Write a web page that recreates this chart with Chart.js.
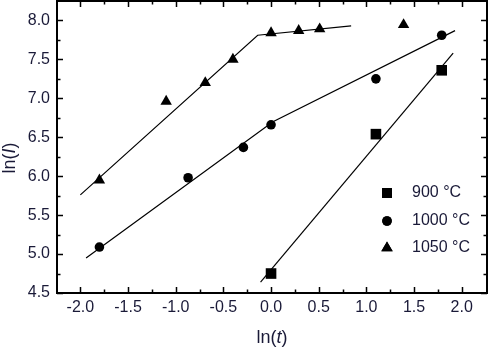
<!DOCTYPE html>
<html>
<head>
<meta charset="utf-8">
<script src="https://cdn.jsdelivr.net/npm/chart.js@4.4.0/dist/chart.umd.min.js"></script>
<style>
  html, body { margin: 0; padding: 0; background: #fff; }
  #wrap { width: 488px; height: 349px; }
</style>
</head>
<body>
<div id="wrap"><canvas id="lnChart" width="488" height="349"></canvas></div>
<script>
// data
const x900 = [0.0, 1.1, 1.79];
const y900 = [4.75, 6.54, 7.36];
const x1000 = [-1.8, -0.87, -0.29, 0.0, 1.1, 1.79];
const y1000 = [5.09, 5.98, 6.37, 6.66, 7.25, 7.81];
const x1050 = [-1.8, -1.1, -0.69, -0.4, 0.0, 0.29, 0.51, 1.39];
const y1050 = [5.95, 6.96, 7.2, 7.5, 7.84, 7.87, 7.89, 7.945];

// fitted lines (end and kink points)
const fitX900 = [-0.11, 1.91];
const fitY900 = [4.64, 7.58];
const fitX1000 = [-1.94, 0.02, 1.93];
const fitY1000 = [4.95, 6.70, 7.87];
const fitX1050 = [-2.0, -0.14, 0.84];
const fitY1050 = [5.76, 7.81, 7.93];

const xTicks = [-2.0, -1.5, -1.0, -0.5, 0.0, 0.5, 1.0, 1.5, 2.0];
const yTicks = [4.5, 5.0, 5.5, 6.0, 6.5, 7.0, 7.5, 8.0];
const legendLabels = ['900 \u00b0C', '1000 \u00b0C', '1050 \u00b0C'];
const legendStyles = ['rect', 'circle', 'triangle'];

const TEXT = '#1a1a38';
const FONT = '"Liberation Sans", Arial, sans-serif';

function pts(xs, ys) {
  return xs.map((x, i) => ({ x: x, y: ys[i] }));
}

function fitSet(xs, ys) {
  return {
    type: 'line', data: pts(xs, ys), borderColor: '#000', borderWidth: 1.2,
    pointRadius: 0, fill: false, tension: 0
  };
}

function markSet(xs, ys, style, r) {
  return {
    type: 'scatter', data: pts(xs, ys), pointStyle: style, pointRadius: r,
    backgroundColor: '#000', borderColor: '#000', borderWidth: 0
  };
}

// frame + inward ticks, axis titles with italic letter, legend
const decorPlugin = {
  id: 'decor',
  afterDraw(chart) {
    const ctx = chart.ctx;
    const a = chart.chartArea;
    const xs = chart.scales.x, ys = chart.scales.y;
    ctx.save();
    ctx.strokeStyle = '#000';
    ctx.lineWidth = 2;
    ctx.strokeRect(a.left, a.top, a.right - a.left, a.bottom - a.top);

    ctx.lineWidth = 1.5;
    ctx.beginPath();
    for (let v = -2.0; v <= 2.01; v += 0.25) {
      const major = Math.abs(v * 2 - Math.round(v * 2)) < 1e-6;
      const len = major ? 6 : 3.5;
      const px = Math.round(xs.getPixelForValue(v)) + 0.5;
      ctx.moveTo(px, a.bottom); ctx.lineTo(px, a.bottom - len);
      ctx.moveTo(px, a.top); ctx.lineTo(px, a.top + len);
    }
    for (let v = 4.5; v <= 8.01; v += 0.25) {
      const major = Math.abs(v * 2 - Math.round(v * 2)) < 1e-6;
      const len = major ? 6 : 3.5;
      const py = Math.round(ys.getPixelForValue(v)) + 0.5;
      ctx.moveTo(a.left, py); ctx.lineTo(a.left + len, py);
      ctx.moveTo(a.right, py); ctx.lineTo(a.right - len, py);
    }
    ctx.stroke();

    // axis titles
    ctx.fillStyle = TEXT;
    ctx.textBaseline = 'middle';
    const drawParts = (parts, cx, cy) => {
      let w = 0;
      parts.forEach(p => { ctx.font = p[1] + ' 18px ' + FONT; w += ctx.measureText(p[0]).width; });
      let x = cx - w / 2;
      ctx.textAlign = 'left';
      parts.forEach(p => {
        ctx.font = p[1] + ' 18px ' + FONT;
        ctx.fillText(p[0], x, cy);
        x += ctx.measureText(p[0]).width;
      });
    };
    drawParts([['ln(', 'normal'], ['t', 'italic'], [')', 'normal']], 272, 338);
    ctx.save();
    ctx.translate(10, 158);
    ctx.rotate(-Math.PI / 2);
    drawParts([['ln(', 'normal'], ['I', 'italic'], [')', 'normal']], 0, 0);
    ctx.restore();

    // legend
    const rows = [193, 221, 248];
    const radii = [7, 4.8, 6.6];
    legendLabels.forEach((lab, i) => {
      ctx.fillStyle = '#000';
      Chart.helpers.drawPoint(ctx, { pointStyle: legendStyles[i], radius: radii[i], borderWidth: 0 }, 387, rows[i]);
      ctx.fill();
      ctx.fillStyle = TEXT;
      ctx.font = '16px ' + FONT;
      ctx.textAlign = 'left';
      ctx.fillText(lab, 412, rows[i]);
    });
    ctx.restore();
  }
};

const chart = new Chart(document.getElementById('lnChart'), {
  data: {
    datasets: [
      fitSet(fitX900, fitY900),
      fitSet(fitX1000, fitY1000),
      fitSet(fitX1050, fitY1050),
      markSet(x900, y900, 'rect', 7.5),
      markSet(x1000, y1000, 'circle', 4.8),
      markSet(x1050, y1050, 'triangle', 6.6)
    ]
  },
  options: {
    responsive: false,
    animation: false,
    layout: { autoPadding: false, padding: { top: 1, right: 1, left: 0, bottom: 0 } },
    plugins: { legend: { display: false }, tooltip: { enabled: false } },
    scales: {
      x: {
        type: 'linear', min: -2.245, max: 2.265,
        afterBuildTicks: s => { s.ticks = xTicks.map(v => ({ value: v })); },
        afterFit: s => { s.height = 56; s.paddingLeft = 0; s.paddingRight = 0; },
        grid: { display: false, drawTicks: false },
        border: { display: false },
        ticks: {
          padding: 5, color: TEXT, font: { family: FONT, size: 16 },
          maxRotation: 0, autoSkip: false,
          callback: v => v.toFixed(1)
        }
      },
      y: {
        type: 'linear', min: 4.5, max: 8.25,
        afterBuildTicks: s => { s.ticks = yTicks.map(v => ({ value: v })); },
        afterFit: s => { s.width = 57; s.paddingTop = 0; s.paddingBottom = 0; },
        grid: { display: false, drawTicks: false },
        border: { display: false },
        ticks: {
          padding: 7, color: TEXT, font: { family: FONT, size: 16 },
          autoSkip: false,
          callback: v => v.toFixed(1)
        }
      }
    }
  },
  plugins: [decorPlugin]
});
</script>
</body>
</html>
